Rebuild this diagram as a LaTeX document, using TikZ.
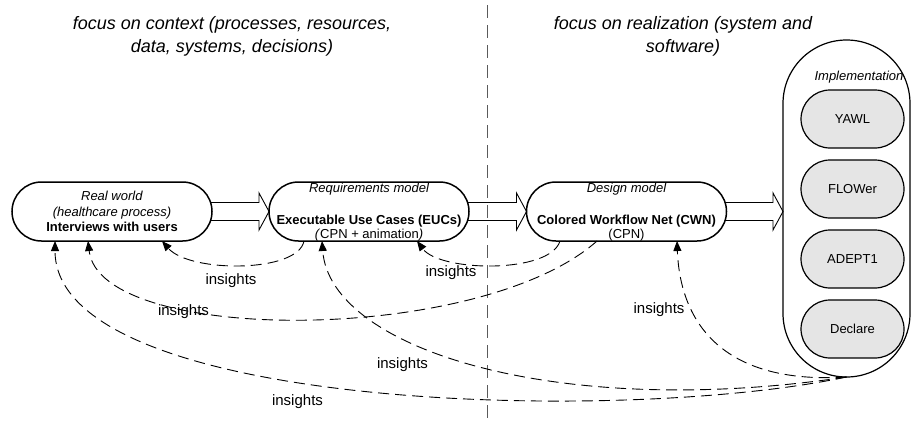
\documentclass[tikz,border=0pt]{standalone}
\usepackage{fontspec}
\setmainfont{Liberation Sans}
\usetikzlibrary{calc,arrows.meta}
\definecolor{toolgray}{RGB}{229,229,229}
\definecolor{divgray}{RGB}{90,90,90}
\newcommand\blockarrow[2]{%
  \coordinate (#2tip) at (#2.west |- #1.east);
  \draw[blockar] ($(#1.east)+(-2,-9)$) -- ($(#2tip)+(-10,-9)$) -- ($(#2tip)+(-10,-18.5)$)
    -- (#2tip) -- ($(#2tip)+(-10,18.5)$) -- ($(#2tip)+(-10,9)$) -- ($(#1.east)+(-2,9)$);}
\begin{document}
\begin{tikzpicture}[x=1pt,y=-1pt,
  every node/.style={inner sep=0pt, outer sep=0pt},
  stadium/.style={draw, line width=1.5pt, fill=white, rounded corners=29.5pt,
    minimum width=200pt, minimum height=59pt},
  implbox/.style={draw, line width=1.2pt, rounded corners=63.5pt,
    minimum width=127pt, minimum height=337pt},
  tool/.style={draw, line width=1.2pt, fill=toolgray, rounded corners=29pt,
    minimum width=103pt, minimum height=58pt, font=\fontsize{13}{15.5}\selectfont},
  boxtxt/.style={anchor=base, font=\fontsize{13}{15.5}\selectfont},
  hdr/.style={boxtxt, font=\fontsize{13}{15.5}\selectfont\itshape},
  bld/.style={boxtxt, font=\fontsize{13}{15.5}\selectfont\bfseries},
  titletxt/.style={anchor=north, align=center, font=\fontsize{18}{23}\selectfont\itshape},
  blockar/.style={draw, line width=0.9pt},
  divider/.style={draw=divgray, line width=1pt, dash pattern=on 13pt off 7pt},
  insight/.style={draw, line width=0.9pt, dash pattern=on 11pt off 6pt,
    -{Triangle[length=10pt,width=8pt]}},
  lbl/.style={anchor=base, font=\fontsize{15}{18}\selectfont}
]
\useasboundingbox (0,0) rectangle (912,421);

% titles
\node[titletxt] (t1) at (232,16.9) {focus on context (processes, resources,\\data, systems, decisions)};
\node[titletxt] (t2) at (683,16.9) {focus on realization (system and\\software)};

% divider
\draw[divider] (487,5) -- (487,421);

% main boxes
\node[stadium, align=center, font=\fontsize{13}{15.5}\selectfont] (b1) at (112,211.5)
  {\textit{Real world}\\\textit{(healthcare process)}\\\textbf{Interviews with users}};
\node[stadium] (b2) at (369,211.5) {};
\node[stadium] (b3) at (626.5,211.5) {};

\node[hdr] (b2h) at (369,192) {Requirements model};
\node[bld] (b2b) at (369,224) {Executable Use Cases (EUCs)};
\node[boxtxt] (b2s) at (369,238.5) {\textit{(}CPN + animation\textit{)}};

\node[hdr] (b3h) at (626.5,192) {Design model};
\node[bld] (b3b) at (626.5,224) {Colored Workflow Net (CWN)};
\node[boxtxt] (b3s) at (626.5,238.5) {(CPN)};

% implementation container
\node[implbox] (im) at (846.5,208.5) {};
\node[hdr] (imh) at (859,80) {Implementation};
\node[tool] (yawl) at (852.5,119) {YAWL};
\node[tool] (flower) at (852.5,189) {FLOWer};
\node[tool] (adept) at (852.5,259) {ADEPT1};
\node[tool] (declare) at (852.5,329) {Declare};

% block arrows
\blockarrow{b1}{b2}
\blockarrow{b2}{b3}
\blockarrow{b3}{im}

% insight feedback arrows
\draw[insight] ($(b2.south)+(-65,0)$) .. controls +(-6,32) and +(28,32) .. ($(b1.south)+(50,0)$);
\draw[insight] ($(b3.south)+(-66.5,0)$) .. controls +(-10,33) and +(23,31) .. ($(b2.south)+(48,0)$);
\draw[insight] ($(b3.south)+(-29.5,0)$) .. controls +(-117,104) and +(12,104) .. ($(b1.south)+(-24,0)$);
\draw[insight] (im.south) .. controls +(-286.5,43) and +(8,109) .. ($(b2.south)+(-47,0)$);
\draw[insight] (im.south) .. controls +(-226.5,48) and +(0,169) .. ($(b1.south)+(-57,0)$);
\draw[insight] (im.south) .. controls +(-126.5,8) and +(3,79) .. ($(b3.south)+(50.5,0)$);

% labels
\node[lbl] (l1) at (231,284) {insights};
\node[lbl] (l2) at (451,276) {insights};
\node[lbl] (l3) at (183.5,315) {insights};
\node[lbl] (l4) at (402.5,368) {insights};
\node[lbl] (l5) at (297.5,405) {insights};
\node[lbl] (l6) at (659,313) {insights};
\end{tikzpicture}
\end{document}
